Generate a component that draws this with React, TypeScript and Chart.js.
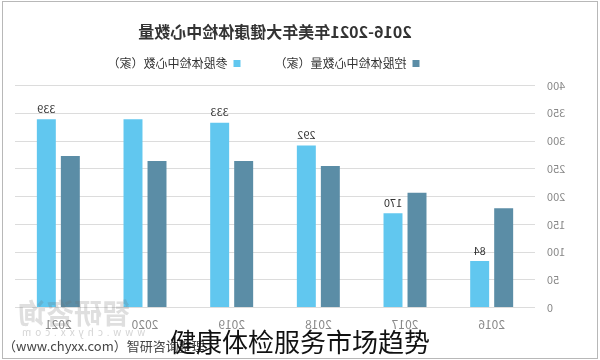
import React, { useEffect, useRef } from "react";
import { Chart, registerables } from "chart.js";

Chart.register(...registerables);

const years = ["2016", "2017", "2018", "2019", "2020", "2021"];
const holdingCenters = [179, 207, 255, 264, 264, 273];
const investedCenters = [84, 170, 292, 333, 339, 339];
const investedLabelShown = [true, true, true, true, false, true];
const holdingName = "控股体检中心数量（家）";
const investedName = "参股体检中心数（家）";
const titleText = "2016-2021年美年大健康体检中心数量";
const captionText = "健康体检服务市场趋势";
const sourceText = "（www.chyxx.com）智研咨询整理";
const watermarkText = "智研咨询";
const watermarkUrl = "www.chyxx.com";

const lightColor = "#61c7ef";
const darkColor = "#5b8da6";
const FONT = '"Noto Sans CJK SC", "Noto Sans", sans-serif';

const valueLabelPlugin = {
  id: "valueLabels",
  afterDatasetsDraw(chart: any) {
    const ctx = chart.ctx;
    const meta = chart.getDatasetMeta(1);
    ctx.save();
    ctx.font = `11px ${FONT}`;
    ctx.fillStyle = "#333";
    ctx.textAlign = "center";
    ctx.textBaseline = "bottom";
    meta.data.forEach((bar: any, i: number) => {
      if (!investedLabelShown[i]) return;
      ctx.fillText(String(investedCenters[i]), bar.x, bar.y - 5);
    });
    ctx.restore();
  },
};

const watermarkPlugin = {
  id: "watermark",
  afterDraw(chart: any) {
    const ctx = chart.ctx;
    const area = chart.chartArea;
    ctx.save();
    ctx.fillStyle = "rgba(110,110,110,0.22)";
    ctx.font = `bold 28px ${FONT}`;
    ctx.textAlign = "right";
    ctx.textBaseline = "middle";
    ctx.fillText(watermarkText, area.right - 3, area.bottom + 6);
    ctx.font = `10px ${FONT}`;
    (ctx as any).letterSpacing = "4px";
    ctx.fillStyle = "rgba(110,110,110,0.3)";
    ctx.fillText(watermarkUrl, area.right - 3, area.bottom + 25);
    ctx.restore();
  },
};

function BarChart() {
  const ref = useRef<HTMLCanvasElement>(null);
  useEffect(() => {
    if (!ref.current) return;
    const chart = new Chart(ref.current, {
      type: "bar",
      data: {
        labels: years,
        datasets: [
          {
            label: holdingName,
            data: holdingCenters,
            backgroundColor: darkColor,
            categoryPercentage: 0.554,
            barPercentage: 0.79,
          },
          {
            label: investedName,
            data: investedCenters,
            backgroundColor: lightColor,
            categoryPercentage: 0.554,
            barPercentage: 0.79,
          },
        ],
      },
      options: {
        responsive: false,
        animation: false,
        layout: { padding: { left: 34, right: 15, top: 0, bottom: 28 } },
        plugins: {
          tooltip: { enabled: false },
          title: {
            display: true,
            text: titleText,
            fullSize: false,
            color: "#333",
            font: { family: FONT, size: 16, weight: "bold", lineHeight: 1.2 },
            padding: { top: 22.4, bottom: 5.9 },
          },
          legend: {
            display: true,
            fullSize: false,
            position: "top",
            labels: {
              color: "#333",
              font: { family: FONT, size: 12 },
              boxWidth: 7,
              boxHeight: 7,
              padding: 10,
              generateLabels: (ch: any) => [
                {
                  text: "",
                  fillStyle: "rgba(0,0,0,0)",
                  strokeStyle: "rgba(0,0,0,0)",
                  lineWidth: 0,
                  hidden: false,
                  fontColor: "#333",
                },
                ...ch.data.datasets.map((ds: any, i: number) => ({
                  text: i === 0 ? ds.label + "\u3000\u3000\u2002" : ds.label,
                  fillStyle: ds.backgroundColor,
                  strokeStyle: ds.backgroundColor,
                  lineWidth: 0,
                  hidden: false,
                  datasetIndex: i,
                  fontColor: "#333",
                })),
              ],
            },
          },
        },
        scales: {
          x: {
            grid: { display: false, drawTicks: false },
            border: { display: false },
            ticks: { color: "#888", font: { family: FONT, size: 12 }, padding: 10 },
            afterFit: (s: any) => {
              s.height = 24.4;
            },
          },
          x2: {
            type: "category",
            position: "top",
            display: true,
            grid: { display: false, drawTicks: false },
            border: { display: false },
            ticks: { display: false },
            afterFit: (s: any) => {
              s.height = 6;
            },
          },
          y: {
            min: 0,
            max: 400,
            ticks: { stepSize: 50, color: "#888", font: { family: FONT, size: 11 }, padding: 12 },
            grid: { color: "#dcdcdc", drawTicks: false },
            border: { display: false },
            afterFit: (s: any) => {
              s.width = 31;
            },
          },
        },
      } as any,
      plugins: [valueLabelPlugin, watermarkPlugin],
    });
    return () => chart.destroy();
  }, []);
  return (
    <canvas
      ref={ref}
      width={600}
      height={360}
      style={{ position: "absolute", left: 0, top: 0, width: 600, height: 360, transform: "scaleX(-1)" }}
    />
  );
}

export default function App() {
  return (
    <div style={{ position: "absolute", left: 0, top: 0, width: 600, height: 360, background: "#fff", overflow: "hidden" }}>
      <BarChart />
      <div
        style={{
          position: "absolute",
          left: 2,
          top: 1,
          width: 594,
          height: 356,
          border: "1px solid #b8b8b8",
          pointerEvents: "none",
        }}
      />
      <div
        style={{
          position: "absolute",
          left: 3,
          top: 339,
          fontFamily: FONT,
          fontSize: 13,
          lineHeight: "13px",
          color: "#444",
          whiteSpace: "nowrap",
        }}
      >
        {sourceText}
      </div>
      <div
        style={{
          position: "absolute",
          left: 170,
          top: 328,
          fontFamily: FONT,
          fontSize: 26,
          lineHeight: "26px",
          color: "#111",
          whiteSpace: "nowrap",
        }}
      >
        {captionText}
      </div>
    </div>
  );
}
